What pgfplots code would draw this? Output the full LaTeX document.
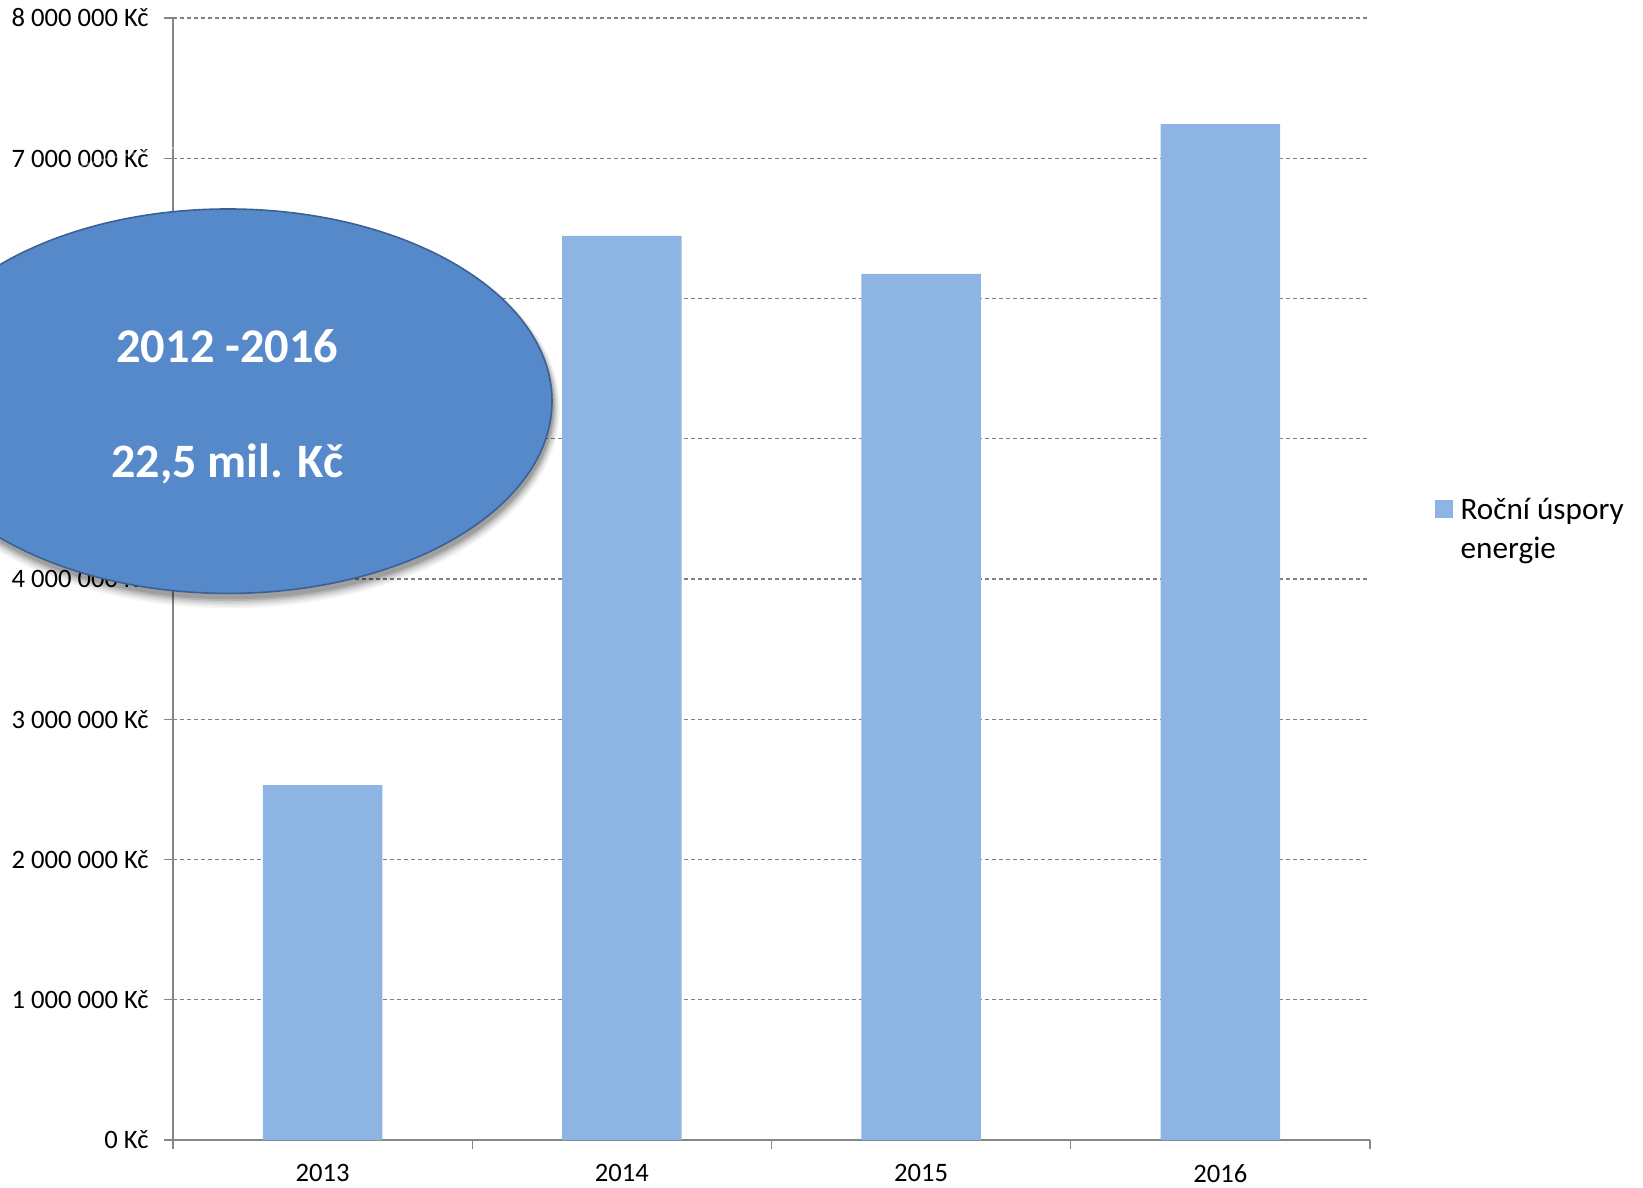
\documentclass[border=0pt]{standalone}
\usepackage{pgfplots}
\pgfplotsset{compat=1.18}
\usepackage{fontspec}
\setmainfont{Carlito}
\definecolor{barblue}{HTML}{8EB4E3}
\definecolor{ellblue}{HTML}{5689C9}
\definecolor{ellrim}{HTML}{3B6194}
\definecolor{axgray}{HTML}{868686}
\begin{document}
\begin{tikzpicture}[x=1pt,y=1pt]
\begin{axis}[
  at={(0,0)}, anchor=south west,
  scale only axis, width=598.5pt, height=561pt,
  ybar, bar width=59.7pt,
  xmin=-0.5, xmax=3.5, ymin=0, ymax=8000000,
  axis x line*=bottom, axis y line*=left,
  axis line style={draw=axgray, line width=0.7pt},
  xtick={-0.5,0.5,1.5,2.5,3.5},
  x tick label as interval,
  xticklabels={2013,2014,2015,2016},
  ytick={0,1000000,2000000,3000000,4000000,5000000,6000000,7000000,8000000},
  yticklabels={0 Kč,1 000 000 Kč,2 000 000 Kč,3 000 000 Kč,4 000 000 Kč,5 000 000 Kč,6 000 000 Kč,7 000 000 Kč,8 000 000 Kč},
  scaled y ticks=false,
  tick align=outside,
  major tick length=4.5pt,
  tick style={draw=axgray, line width=0.7pt},
  ymajorgrids,
  grid style={draw=gray, dash pattern=on 2pt off 1.5pt, line width=0.6pt},
  ticklabel style={font=\fontsize{13.3}{15.9}\selectfont, text=black},
  yticklabel style={xshift=-4.2pt},
  xticklabel style={yshift=-4pt},
  clip=false,
  legend cell align=left,
  legend style={at={(1.0543,0.5773)}, anchor=north west, draw=none, fill=none,
    inner sep=0pt, outer sep=0pt, column sep=4pt,
    nodes={inner sep=0pt},
    font=\fontsize{15.6}{19.6}\selectfont},
  legend image code/.code={\fill[barblue] (0pt,-5.3pt) rectangle (8.8pt,3.5pt);},
]
\addplot[fill=barblue, draw=none] coordinates {(0,2531000) (1,6446000) (2,6175000) (3,7244000)};
\addlegendentry{\begin{tabular}[t]{@{}l@{}}Roční úspory\\energie\end{tabular}}
\end{axis}
% ellipse annotation with soft shadow
\foreach \s/\o in {6/0.04,5/0.05,4/0.06,3/0.08,2/0.10,1/0.12}{
  \fill[black,opacity=\o] (28.3,367.4-0.3*\s) ellipse ({161.5+0.6*\s} and {96.1+0.6*\s});
}
\fill[ellblue] (27.5,369.4) ellipse (162 and 96.1);
\draw[ellrim, line width=0.8pt] (27.5,369.4) ellipse (162 and 96.1);
\draw[white, opacity=0.35, line width=1pt] (27.5,369.4) ++(150:161) arc[start angle=150, end angle=40, x radius=161, y radius=95.1];
\node[text=white, font=\bfseries\fontsize{24.2}{29}\selectfont] at (27.2,397.1) {2012 -2016};
\node[text=white, font=\bfseries\fontsize{24.0}{29}\selectfont] at (27.2,337.9) {22,5 mil. Kč};
\pgfresetboundingbox
\useasboundingbox (-86.5,-24) rectangle (735,570);
\end{tikzpicture}
\end{document}
